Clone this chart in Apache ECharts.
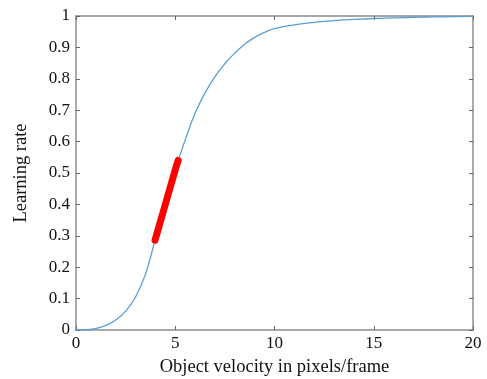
<!DOCTYPE html>
<html>
<head>
<meta charset="utf-8">
<script src="https://cdn.jsdelivr.net/npm/echarts@6/dist/echarts.min.js"></script>
<style>html,body{margin:0;padding:0;background:#fff}#c{width:487px;height:379px}</style>
</head>
<body>
<div id="c"></div>
<script>
var curveX = [0, 0.5, 1, 1.5, 2, 2.5, 3, 3.5, 4, 4.5, 5, 5.5, 6, 6.5, 7, 7.5, 8, 8.5, 9, 9.5, 10, 11, 12, 13, 14, 15, 16, 17, 18, 19, 20];
var curveY = [0, 0.001, 0.005, 0.015, 0.032, 0.06, 0.105, 0.178, 0.29, 0.40, 0.51, 0.605, 0.69, 0.755, 0.807, 0.848, 0.882, 0.91, 0.932, 0.948, 0.96, 0.972, 0.98, 0.985, 0.989, 0.992, 0.994, 0.996, 0.997, 0.998, 0.999];
var redX = [3.98, 4.5, 5, 5.15];
var redY = [0.286, 0.40, 0.51, 0.54];
var xTicks = [0, 5, 10, 15, 20];
var yTicks = [0, 0.1, 0.2, 0.3, 0.4, 0.5, 0.6, 0.7, 0.8, 0.9, 1];

function pairs(xs, ys){ return xs.map(function(x,i){ return [x, ys[i]]; }); }

var font = 'Liberation Serif';
var axisColor = '#8c8c8c';
var chart = echarts.init(document.getElementById('c'));
chart.setOption({
  animation: false,
  grid: {left: 76, top: 16, right: 14, bottom: 49, containLabel: false, outerBoundsMode: 'none'},
  xAxis: [{
    type: 'value', min: 0, max: 20, interval: 5,
    name: 'Object velocity in pixels/frame', nameLocation: 'middle', nameGap: 28,
    nameTextStyle: {fontFamily: font, fontSize: 18.5, color: '#111'},
    axisLine: {show: true, onZero: false, lineStyle: {color: axisColor, width: 1.5}},
    axisTick: {show: true, inside: true, length: 4, lineStyle: {color: '#666'}},
    axisLabel: {fontFamily: font, fontSize: 17, color: '#111', margin: 5,
      formatter: function(v){ return xTicks.indexOf(v) >= 0 ? String(v) : ''; }},
    splitLine: {show: false}
  }, {
    type: 'value', min: 0, max: 20, interval: 5, position: 'top',
    axisLine: {show: true, onZero: false, lineStyle: {color: axisColor, width: 1.5}},
    axisTick: {show: true, inside: true, length: 4, lineStyle: {color: '#666'}},
    axisLabel: {show: false}, splitLine: {show: false}
  }],
  yAxis: [{
    type: 'value', min: 0, max: 1, interval: 0.1,
    name: 'Learning rate', nameLocation: 'middle', nameGap: 45,
    nameTextStyle: {fontFamily: font, fontSize: 18.5, color: '#111'},
    axisLine: {show: true, onZero: false, lineStyle: {color: axisColor, width: 1.5}},
    axisTick: {show: true, inside: true, length: 4, lineStyle: {color: '#666'}},
    axisLabel: {fontFamily: font, fontSize: 17, color: '#111', margin: 6,
      formatter: function(v){ var r = Math.round(v*10)/10; return yTicks.indexOf(r) >= 0 ? String(r) : ''; }},
    splitLine: {show: false}
  }, {
    type: 'value', min: 0, max: 1, interval: 0.1, position: 'right',
    axisLine: {show: true, onZero: false, lineStyle: {color: axisColor, width: 1.5}},
    axisTick: {show: true, inside: true, length: 4, lineStyle: {color: '#666'}},
    axisLabel: {show: false}, splitLine: {show: false}
  }],
  series: [{
    type: 'line', data: pairs(curveX, curveY), smooth: 0.5, showSymbol: false,
    lineStyle: {color: '#5a9fd4', width: 1.3}, z: 2
  }, {
    type: 'line', data: pairs(redX, redY), smooth: 0.5, showSymbol: false,
    lineStyle: {color: '#ff0000', width: 7, cap: 'round', join: 'round'}, z: 3
  }]
});
</script>
</body>
</html>
